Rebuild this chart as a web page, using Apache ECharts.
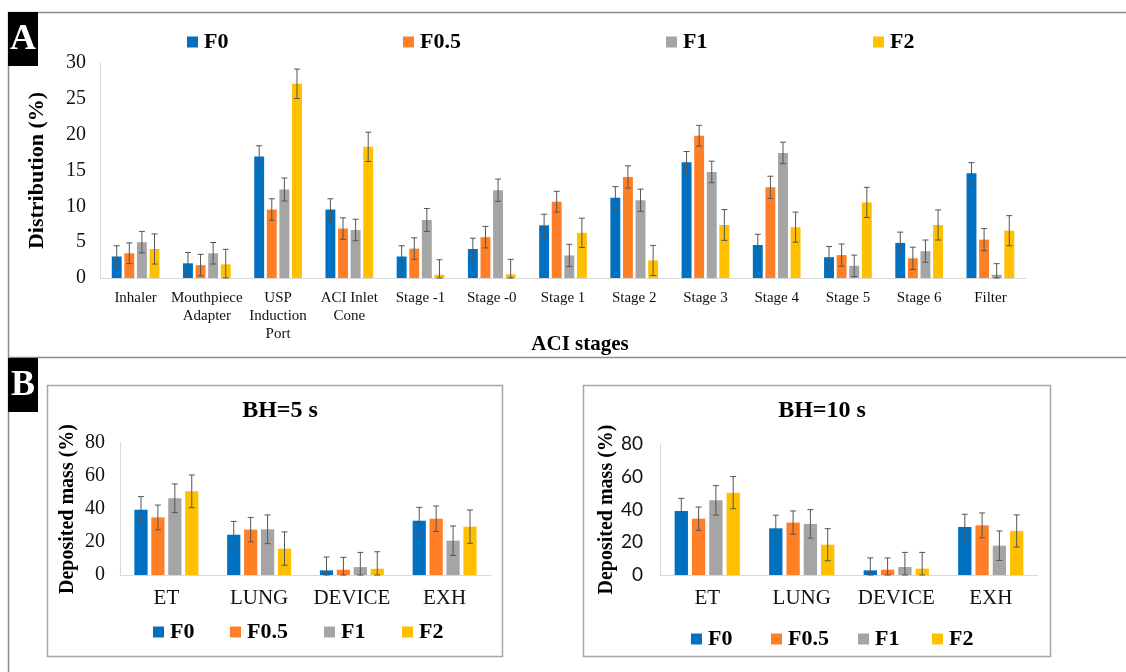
<!DOCTYPE html>
<html><head><meta charset="utf-8">
<script src="https://cdn.jsdelivr.net/npm/echarts@6/dist/echarts.min.js"></script>
<style>html,body{margin:0;padding:0;background:#fff}#c{width:1126px;height:672px}</style>
</head><body><div id="c"></div>
<script>
const seriesNames = ['F0', 'F0.5', 'F1', 'F2'];
const colors = ['#0070C0', '#FF7F27', '#A5A5A5', '#FFC000'];

// Panel A: ACI stages distribution (%)
const categoriesA = ['Inhaler', 'Mouthpiece\nAdapter', 'USP\nInduction\nPort', 'ACI Inlet\nCone', 'Stage -1', 'Stage -0', 'Stage 1', 'Stage 2', 'Stage 3', 'Stage 4', 'Stage 5', 'Stage 6', 'Filter'];
const a_F0   = [3.0, 2.05, 16.95, 9.55, 3.0, 4.05, 7.35, 11.2, 16.15, 4.6, 2.9, 4.9, 14.6];
const a_F05  = [3.45, 1.8, 9.55, 6.9, 4.1, 5.7, 10.65, 14.1, 19.85, 12.65, 3.2, 2.75, 5.35];
const a_F1   = [5.0, 3.45, 12.35, 6.7, 8.1, 12.25, 3.15, 10.85, 14.8, 17.45, 1.7, 3.75, 0.45];
const a_F2   = [4.05, 1.9, 27.1, 18.3, 0.45, 0.5, 6.3, 2.45, 7.4, 7.1, 10.55, 7.4, 6.6];
const a_F0_err  = [1.5, 1.5, 1.5, 1.5, 1.5, 1.5, 1.55, 1.55, 1.5, 1.5, 1.5, 1.5, 1.5];
const a_F05_err = [1.45, 1.5, 1.5, 1.5, 1.5, 1.5, 1.45, 1.55, 1.45, 1.55, 1.55, 1.55, 1.55];
const a_F1_err  = [1.5, 1.5, 1.6, 1.5, 1.6, 1.55, 1.55, 1.55, 1.5, 1.5, 1.5, 1.55, 1.55];
const a_F2_err  = [2.1, 2.1, 2.05, 2.05, 2.1, 2.1, 2.05, 2.1, 2.15, 2.1, 2.1, 2.1, 2.1];
const xTitleA = 'ACI stages';

// Panel B: deposited mass (%)
const categoriesB = ['ET', 'LUNG', 'DEVICE', 'EXH'];
const b5_F0  = [39.6, 24.4, 2.8, 32.9];
const b5_F05 = [34.9, 27.5, 3.2, 34.1];
const b5_F1  = [46.5, 27.7, 4.8, 20.8];
const b5_F2  = [50.7, 16.0, 3.8, 29.3];
const b5_F0_err  = [7.9, 8.1, 8.1, 8.1];
const b5_F05_err = [7.5, 7.4, 7.5, 7.7];
const b5_F1_err  = [8.7, 8.7, 8.9, 8.9];
const b5_F2_err  = [9.9, 10.1, 10.3, 10.1];

const b10_F0  = [39.1, 28.5, 2.85, 29.3];
const b10_F05 = [34.4, 32.0, 3.3, 30.3];
const b10_F1  = [45.6, 31.2, 4.9, 17.9];
const b10_F2  = [50.3, 18.5, 3.9, 26.9];
const b10_F0_err  = [7.7, 8.0, 7.6, 7.8];
const b10_F05_err = [7.1, 7.1, 7.1, 7.6];
const b10_F1_err  = [9.0, 8.7, 8.9, 9.0];
const b10_F2_err  = [9.8, 9.8, 9.9, 9.8];

const yTicksA = [0, 5, 10, 15, 20, 25, 30];
const yTicksB = [0, 20, 40, 60, 80];

const SERIF = '"Liberation Serif", "Times New Roman", serif';
const SANS = 'Lato, "Open Sans", sans-serif';
const ERR_COLOR = '#555555';

const chart = echarts.init(document.getElementById('c'));

function makeErrSeries(name, gridIdx, vals, errs, idx, catGap, barGap) {
  return {
    type: 'custom', name: name, xAxisIndex: gridIdx, yAxisIndex: gridIdx, z: 5,
    data: vals.map((v, i) => [i, v, errs[i]]),
    renderItem: function (params, api) {
      const cat = api.value(0), v = api.value(1), e = api.value(2);
      const band = api.size([1, 0])[0];
      const usable = band * (1 - catGap);
      const w = usable / (4 + 3 * barGap);
      const off = -usable / 2 + idx * w * (1 + barGap) + w / 2;
      const top = api.coord([cat, v + e]);
      const bot = api.coord([cat, Math.max(0, v - e)]);
      const x = top[0] + off;
      const cap = 3;
      const st = { stroke: ERR_COLOR, lineWidth: 1 };
      return { type: 'group', children: [
        { type: 'line', shape: { x1: x, y1: top[1], x2: x, y2: bot[1] }, style: st },
        { type: 'line', shape: { x1: x - cap, y1: top[1], x2: x + cap, y2: top[1] }, style: st },
        { type: 'line', shape: { x1: x - cap, y1: bot[1], x2: x + cap, y2: bot[1] }, style: st }
      ] };
    }
  };
}

function groupSeries(gridIdx, dataSets, errSets, catGap, barGap) {
  const out = [];
  dataSets.forEach((d, i) => {
    out.push({
      type: 'bar', name: seriesNames[i], xAxisIndex: gridIdx, yAxisIndex: gridIdx,
      data: d, itemStyle: { color: colors[i] },
      barCategoryGap: (catGap * 100) + '%', barGap: (barGap * 100) + '%'
    });
  });
  dataSets.forEach((d, i) => out.push(makeErrSeries(seriesNames[i], gridIdx, d, errSets[i], i, catGap, barGap)));
  return out;
}

const series = [].concat(
  groupSeries(0, [a_F0, a_F05, a_F1, a_F2], [a_F0_err, a_F05_err, a_F1_err, a_F2_err], 0.33, 0.27),
  groupSeries(1, [b5_F0, b5_F05, b5_F1, b5_F2], [b5_F0_err, b5_F05_err, b5_F1_err, b5_F2_err], 0.31, 0.28),
  groupSeries(2, [b10_F0, b10_F05, b10_F1, b10_F2], [b10_F0_err, b10_F05_err, b10_F1_err, b10_F2_err], 0.31, 0.30)
);

function legendAt(name, left, top, size) {
  return {
    data: [name], left: left, top: top, icon: 'rect', itemWidth: 11, itemHeight: 11, itemGap: 0,
    selectedMode: false, padding: 0,
    textStyle: { fontFamily: SERIF, fontWeight: 'bold', fontSize: size, color: '#000', padding: [0, 0, 0, 1] }
  };
}

const axisLineStyle = { lineStyle: { color: '#D9D9D9', width: 1 } };

const option = {
  animation: false,
  backgroundColor: '#ffffff',
  title: [
    { text: 'BH=5 s', left: 275, top: 394, textAlign: 'center',
      textStyle: { fontFamily: SERIF, fontWeight: 'bold', fontSize: 24, color: '#000' } },
    { text: 'BH=10 s', left: 817, top: 394, textAlign: 'center',
      textStyle: { fontFamily: SERIF, fontWeight: 'bold', fontSize: 24, color: '#000' } },
    { text: xTitleA, left: 575, top: 329, textAlign: 'center',
      textStyle: { fontFamily: SERIF, fontWeight: 'bold', fontSize: 21, color: '#000' } }
  ],
  legend: [
    legendAt('F0', 187, 31, 22), legendAt('F0.5', 403, 31, 22), legendAt('F1', 666, 31, 22), legendAt('F2', 873, 31, 22),
    legendAt('F0', 153, 621, 22), legendAt('F0.5', 230, 621, 22), legendAt('F1', 324, 621, 22), legendAt('F2', 402, 621, 22),
    legendAt('F0', 691, 628, 22), legendAt('F0.5', 771, 628, 22), legendAt('F1', 858, 628, 22), legendAt('F2', 932, 628, 22)
  ],
  grid: [
    { left: 100, right: 100, top: 63, bottom: 394 },
    { left: 120, right: 635, top: 443, bottom: 97 },
    { left: 660, right: 88, top: 444, bottom: 97 }
  ],
  xAxis: [
    { type: 'category', gridIndex: 0, data: categoriesA,
      axisLine: axisLineStyle, axisTick: { show: false },
      axisLabel: { interval: 0, fontFamily: SERIF, fontSize: 15, color: '#111', lineHeight: 18, margin: 11 } },
    { type: 'category', gridIndex: 1, data: categoriesB,
      axisLine: axisLineStyle, axisTick: { show: false },
      axisLabel: { interval: 0, fontFamily: SERIF, fontSize: 21, color: '#111', margin: 13 } },
    { type: 'category', gridIndex: 2, data: categoriesB,
      axisLine: axisLineStyle, axisTick: { show: false },
      axisLabel: { interval: 0, fontFamily: SERIF, fontSize: 21, color: '#111', margin: 13 } }
  ],
  yAxis: [
    { type: 'value', gridIndex: 0, min: yTicksA[0], max: yTicksA[yTicksA.length - 1], interval: yTicksA[1] - yTicksA[0],
      axisLine: { show: true, lineStyle: { color: '#D9D9D9' } }, axisTick: { show: false }, splitLine: { show: false },
      axisLabel: { fontFamily: SERIF, fontSize: 20, color: '#111', margin: 14 },
      name: 'Distribution (%)', nameLocation: 'middle', nameGap: 52, nameRotate: 90,
      nameTextStyle: { fontFamily: SERIF, fontWeight: 'bold', fontSize: 22, color: '#000' } },
    { type: 'value', gridIndex: 1, min: yTicksB[0], max: yTicksB[yTicksB.length - 1], interval: yTicksB[1] - yTicksB[0],
      axisLine: { show: true, lineStyle: { color: '#D9D9D9' } }, axisTick: { show: false }, splitLine: { show: false },
      axisLabel: { fontFamily: SERIF, fontSize: 20, color: '#111', margin: 15 },
      name: 'Deposited mass (%)', nameLocation: 'middle', nameGap: 42, nameRotate: 90,
      nameTextStyle: { fontFamily: SERIF, fontWeight: 'bold', fontSize: 20, color: '#000' } },
    { type: 'value', gridIndex: 2, min: yTicksB[0], max: yTicksB[yTicksB.length - 1], interval: yTicksB[1] - yTicksB[0],
      axisLine: { show: true, lineStyle: { color: '#D9D9D9' } }, axisTick: { show: false }, splitLine: { show: false },
      axisLabel: { fontFamily: SANS, fontSize: 19, color: '#111', margin: 17 },
      name: 'Deposited mass (%)', nameLocation: 'middle', nameGap: 43, nameRotate: 90,
      nameTextStyle: { fontFamily: SERIF, fontWeight: 'bold', fontSize: 20, color: '#000' } }
  ],
  graphic: [
    { type: 'line', shape: { x1: 8, y1: 12.5, x2: 1126, y2: 12.5 }, style: { stroke: '#8C8C8C', lineWidth: 1.5 } },
    { type: 'line', shape: { x1: 8.5, y1: 12, x2: 8.5, y2: 672 }, style: { stroke: '#8C8C8C', lineWidth: 1.5 } },
    { type: 'line', shape: { x1: 8, y1: 357.5, x2: 1126, y2: 357.5 }, style: { stroke: '#8C8C8C', lineWidth: 1.5 } },
    { type: 'rect', shape: { x: 8, y: 12, width: 30, height: 54 }, style: { fill: '#000' } },
    { type: 'text', x: 23, y: 40, style: { text: 'A', fill: '#fff', font: 'bold 36px ' + SERIF, align: 'center', verticalAlign: 'middle' } },
    { type: 'rect', shape: { x: 8, y: 358, width: 30, height: 54 }, style: { fill: '#000' } },
    { type: 'text', x: 23, y: 386, style: { text: 'B', fill: '#fff', font: 'bold 36px ' + SERIF, align: 'center', verticalAlign: 'middle' } },
    { type: 'rect', shape: { x: 47.5, y: 385.5, width: 455, height: 271 }, style: { fill: 'none', stroke: '#A6A6A6', lineWidth: 1.5 } },
    { type: 'rect', shape: { x: 583.5, y: 385.5, width: 467, height: 271 }, style: { fill: 'none', stroke: '#A6A6A6', lineWidth: 1.5 } }
  ],
  series: series
};
chart.setOption(option);
</script></body></html>
